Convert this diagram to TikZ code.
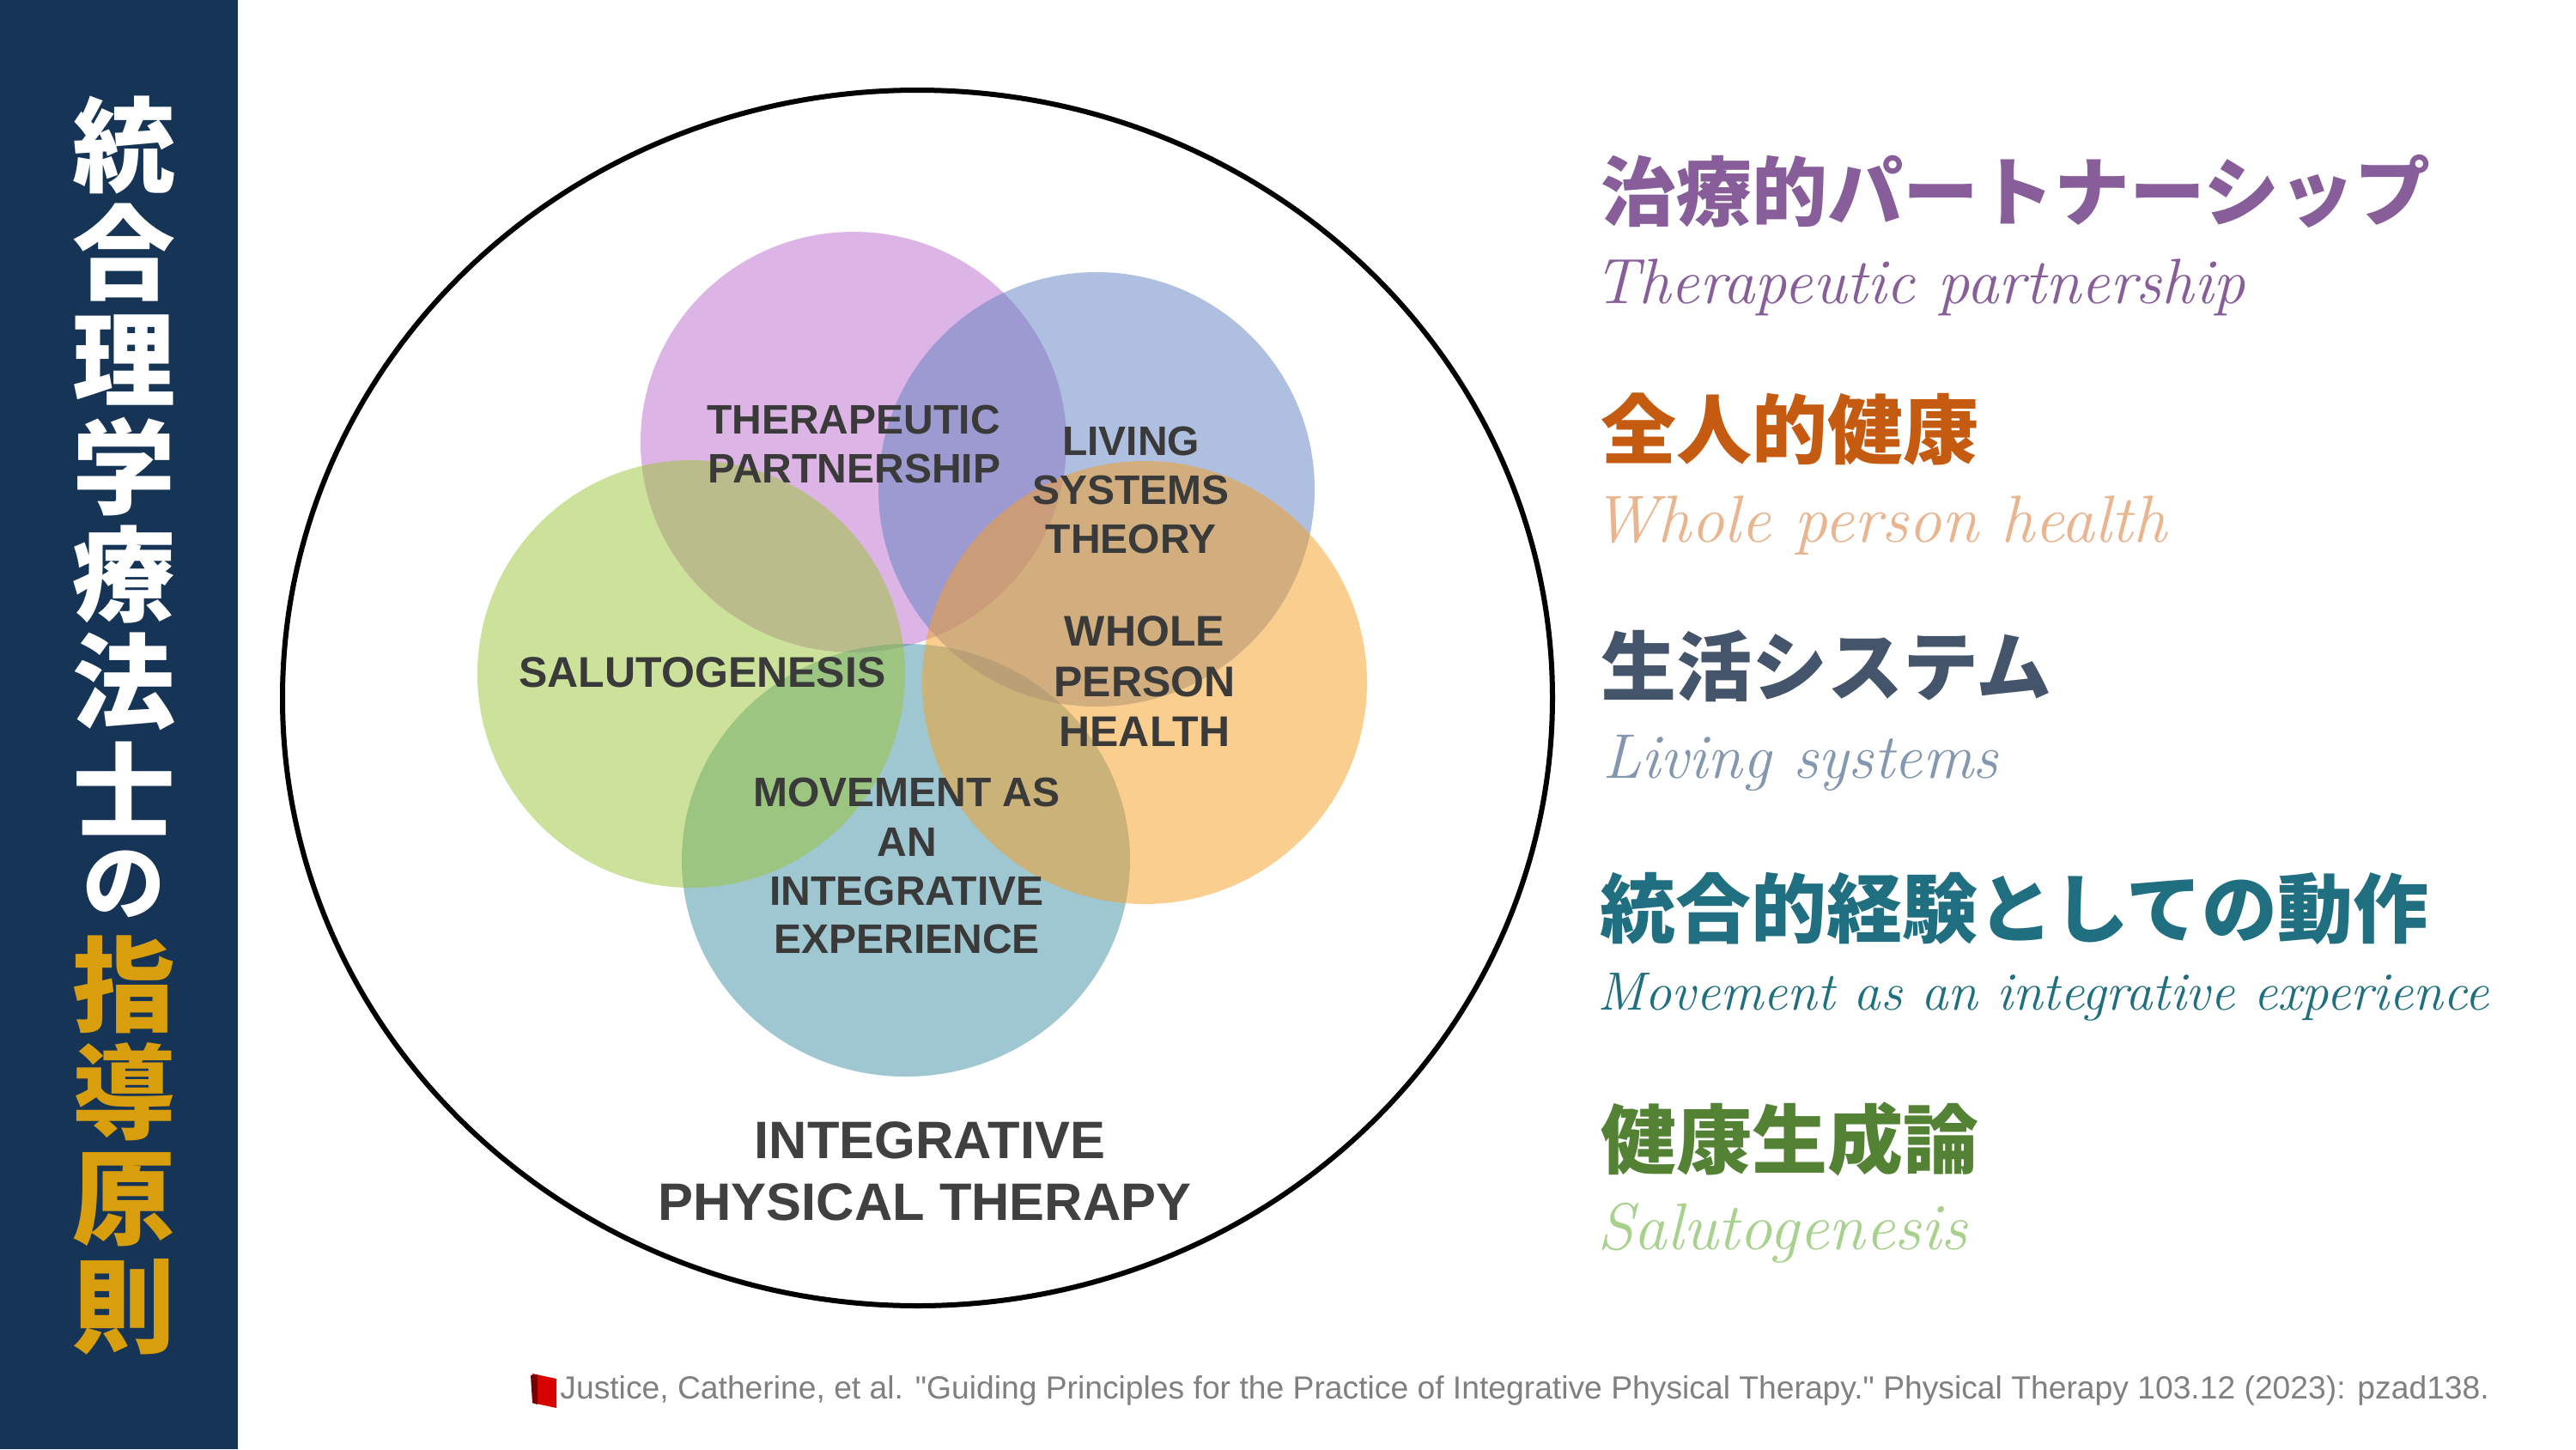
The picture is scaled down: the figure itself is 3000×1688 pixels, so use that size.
\documentclass[tikz,border=0pt]{standalone}
\usepackage{fontspec}
\setmainfont{Liberation Sans}
\newfontfamily\citefont{Liberation Sans}
\newfontfamily\cjk{Noto Sans CJK JP}
\newfontfamily\hand{Latin Modern Roman}
\usetikzlibrary{calc}
\definecolor{navy}{HTML}{163456}
\definecolor{gold}{HTML}{D99E0B}
\definecolor{cpurple}{HTML}{BB6BCD}
\definecolor{cblue}{HTML}{5F81C1}
\definecolor{cgreen}{HTML}{9BC535}
\definecolor{corange}{HTML}{F79F21}
\definecolor{cteal}{HTML}{3F91A5}
\definecolor{hpurple}{HTML}{875E9A}
\definecolor{horange}{HTML}{C55A11}
\definecolor{hnavy}{HTML}{44546A}
\definecolor{hteal}{HTML}{1F6F80}
\definecolor{hgreen}{HTML}{548235}
\definecolor{epeach}{HTML}{EAB58E}
\definecolor{eslate}{HTML}{8497B0}
\definecolor{elime}{HTML}{A9D18E}
\definecolor{labelgrey}{HTML}{3A3A3A}
\tikzset{
  px/.style={x=0.5pt,y=-0.5pt},
  lens/.style={opacity=0.5,draw=none},
  side/.style={inner sep=0,anchor=center,font=\cjk\bfseries\fontsize{60}{60}\selectfont},
  sidesmall/.style={inner sep=0,anchor=center,font=\cjk\bfseries\fontsize{48}{48}\selectfont},
  head/.style={inner sep=0,anchor=west,font=\cjk\bfseries\fontsize{44}{44}\selectfont},
  eng/.style={inner sep=0,anchor=base west},
  lab/.style={inner sep=0,anchor=center,text=labelgrey,font=\bfseries\fontsize{24}{24}\selectfont},
  labwide/.style={lab,font=\bfseries\fontsize{25}{25}\selectfont},
  bigl/.style={inner sep=0,anchor=center,text=black!75,font=\bfseries\fontsize{30.7}{30.7}\selectfont},
  cite/.style={inner sep=0,anchor=west,text=black!50,font=\citefont\fontsize{18.63}{18.63}\selectfont}
}
\newcommand{\engfont}[1]{\hand\itshape\fontsize{#1}{#1}\selectfont}
\begin{document}
\begin{tikzpicture}[px]
\useasboundingbox (0,0) rectangle (3000,1688);
\fill[white] (0,0) rectangle (3000,1688);
\fill[navy] (0,0) rectangle (277,1688);
% sidebar
\foreach \c/\y/\col in {統/169/white,合/294/white,理/419/white,学/544/white,療/669/white,法/794/white,士/919/white,指/1147/gold,導/1272/gold,原/1397/gold,則/1522/gold}
  \node[side,text=\col] (s\y) at (144,\y) {\c};
\node[sidesmall,text=white] (sno) at (144,1030) {の};
% outer ring
\draw[line width=3pt,black] (1068.5,813) ellipse [x radius=739.5,y radius=708];
% petals
\fill[lens,cpurple] (994,515) ellipse [x radius=248,y radius=245];
\fill[lens,cteal] (1055,1002) ellipse [x radius=261,y radius=252];
\fill[lens,cblue] (1277,570) ellipse [x radius=254,y radius=253];
\fill[lens,cgreen] (805,785) ellipse [x radius=249,y radius=249];
\fill[lens,corange] (1333,795) ellipse [x radius=259,y radius=258];
% labels
\node[lab] (l1) at (994,489) {THERAPEUTIC};
\node[lab] (l2) at (995,546) {PARTNERSHIP};
\node[lab] (l3) at (1317,514) {LIVING};
\node[lab] (l4) at (1317,571) {SYSTEMS};
\node[lab] (l5) at (1317,628) {THEORY};
\node[labwide] (l6) at (1333,735) {WHOLE};
\node[labwide] (l7) at (1333,794) {PERSON};
\node[labwide] (l8) at (1333,852) {HEALTH};
\node[labwide] (l9) at (818,783) {SALUTOGENESIS};
\node[lab] (l10) at (1056,923) {MOVEMENT AS};
\node[lab] (l11) at (1056,981) {AN};
\node[lab] (l12) at (1056,1038) {INTEGRATIVE};
\node[lab] (l13) at (1056,1094) {EXPERIENCE};
\node[bigl] (b1) at (1083,1328) {INTEGRATIVE};
\node[bigl] (b2) at (1077,1400) {PHYSICAL THERAPY};
% right column
\node[head,text=hpurple] (h1) at (1864,223) {治療的パートナーシップ};
\node[eng,text=hpurple,font=\engfont{37.3}] (e1) at (1856,353) {Therapeutic partnership};
\node[head,text=horange] (h2) at (1864,500) {全人的健康};
\node[eng,text=epeach,font=\engfont{38.8}] (e2) at (1854,631) {Whole person health};
\node[head,text=hnavy] (h3) at (1864,776) {生活システム};
\node[eng,text=eslate,font=\engfont{36.8}] (e3) at (1866,906) {Living systems};
\node[head,text=hteal] (h4) at (1863,1058) {統合的経験としての動作};
\node[eng,text=hteal,font=\engfont{31.4}] (e4) at (1860,1176) {Movement as an integrative experience};
\node[head,text=hgreen] (h5) at (1864,1327) {健康生成論};
\node[eng,text=elime,font=\engfont{38.5}] (e5) at (1860,1455) {Salutogenesis};
% citation
\fill[red!85!black] (620,1600) -- (648,1606) -- (648,1640) -- (620,1634) -- cycle;
\fill[red!45!black] (618,1602) -- (626,1601) -- (626,1636) -- (620,1634) -- cycle;
\node[cite] (c) at (652,1620) {Justice, Catherine, et al. "Guiding Principles for the Practice of Integrative Physical Therapy." Physical Therapy 103.12 (2023): pzad138.};
\end{tikzpicture}
\end{document}
